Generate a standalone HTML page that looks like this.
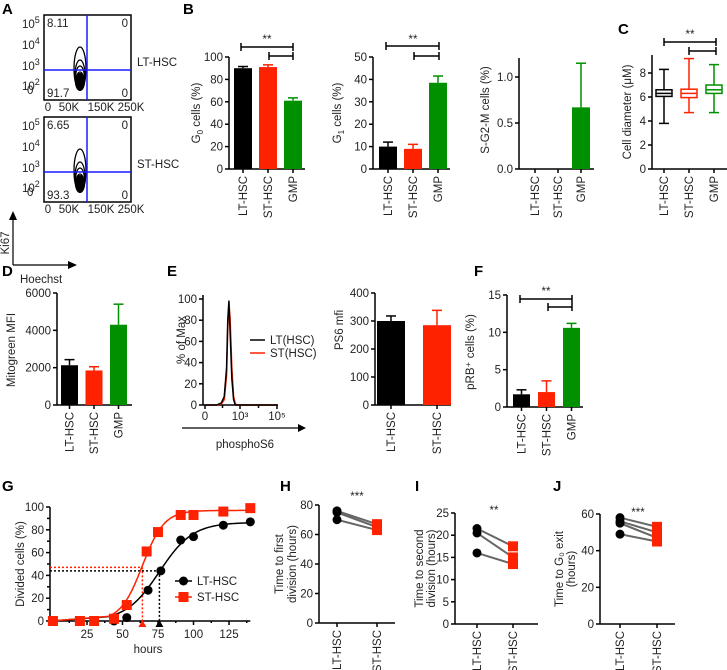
<!DOCTYPE html>
<html><head><meta charset="utf-8">
<style>
html,body{margin:0;padding:0;background:#fff;}
svg{display:block;font-family:"Liberation Sans",sans-serif;}
text{font-size:11.5px;fill:#222;}
.pl{font-size:15px;font-weight:bold;fill:#000;}
</style></head>
<body>
<svg id="fig" width="727" height="670" viewBox="0 0 727 670" xmlns="http://www.w3.org/2000/svg"></svg>
<script>
// ---------- data ----------
const catsB = ['LT-HSC','ST-HSC','GMP'];
const g0Vals = [90, 91, 61];
const g0Errs = [1.5, 2, 2.5];
const g1Vals = [10, 9, 38.5];
const g1Errs = [2, 2, 3];
const sg2mVals = [0, 0, 0.67];
const sg2mErrs = [0, 0, 0.48];
const diamMin = [3.8, 4.7, 4.7];
const diamQ1 = [6.05, 5.95, 6.3];
const diamMed = [6.3, 6.3, 6.6];
const diamQ3 = [6.6, 6.65, 7.0];
const diamMax = [8.3, 9.2, 8.7];
const mitoVals = [2130, 1850, 4300];
const mitoErrs = [300, 200, 1100];
const catsPS6 = ['LT-HSC','ST-HSC'];
const ps6Vals = [300, 285];
const ps6Errs = [18, 53];
const prbVals = [1.7, 2.0, 10.6];
const prbErrs = [0.6, 1.5, 0.6];
const histBins = [0, 1.0, 1.4, 1.65, 1.85, 1.95, 2.05, 2.15, 2.3, 2.45, 2.6, 2.8, 5];
const histLT = [0, 0, 2, 8, 35, 80, 98, 70, 25, 5, 0, 0, 0];
const histST = [0, 0, 1, 5, 28, 72, 96, 82, 35, 8, 1, 0, 0];
const hoursLT = [1, 44, 53, 68, 77, 91, 100, 121, 140];
const divLT = [0, 0, 3, 27, 44, 71, 74, 84, 87];
const hoursST = [1, 20, 30, 44, 53, 67, 75, 91, 100, 121, 140];
const divST = [0, 0, 0, 2, 14, 61, 78, 93, 93, 96, 99];
const fitLT = {top: 86.5, ec50: 76, slope: 0.085};
const fitST = {top: 97, ec50: 64, slope: 0.13};
const t50 = [76, 64];
const firstLT = [76, 75, 70];
const firstST = [67, 65, 63];
const secondLT = [21.5, 20.5, 16];
const secondST = [17.5, 15, 13.5];
const exitLT = [58, 56, 55, 49];
const exitST = [53, 50, 47, 45];

// ---------- helpers ----------
const NS = 'http://www.w3.org/2000/svg';
const svg = document.getElementById('fig');
function el(tag, attrs, name, parent) {
  const e = document.createElementNS(NS, tag);
  for (const k in attrs) e.setAttribute(k, attrs[k]);
  
  
  (parent || svg).appendChild(e);
  return e;
}
function txt(x, y, s, name, extra) {
  const t = el('text', Object.assign({x: x, y: y}, extra || {}), name);
  t.textContent = s;
  return t;
}
function line(x1, y1, x2, y2, name, extra) {
  return el('line', Object.assign({x1: x1, y1: y1, x2: x2, y2: y2, stroke: '#000', 'stroke-width': 1.5}, extra || {}), name);
}
function rotLabel(x, y, s, name, anchor) {
  return txt(x, y, s, name, {transform: 'rotate(-90 ' + x + ' ' + y + ')', 'text-anchor': anchor || 'middle'});
}
function makeY(v0px, vTopPx, vTop) { return v => v0px - (v0px - vTopPx) * v / vTop; }
function yAxis(ax, y, ticks, fmt, top, name) {
  line(ax, top, ax, y(0), name + '-y-axis');
  ticks.forEach(t => {
    line(ax - 4, y(t), ax, y(t), name + '-y-tick');
    txt(ax - 6, y(t) + 4, fmt(t), name + '-y-tick-label', {'text-anchor': 'end'});
  });
}
function xCats(cx, y0, cats, name) {
  cx.forEach((c, i) => {
    line(c, y0, c, y0 + 4, name + '-x-tick');
    rotLabel(c + 4, y0 + 7, cats[i], name + '-x-label', 'end');
  });
}
function bars(x0, w, step, y, vals, errs, colors, name) {
  const cx = [];
  vals.forEach((v, i) => {
    const x = x0 + i * step, c = x + w / 2;
    cx.push(c);
    if (v > 0) {
      el('rect', {x: x, y: y(v), width: w, height: y(0) - y(v), fill: colors[i]}, name + '-bar-' + i);
      line(c, y(v), c, y(v + errs[i]), name + '-error-bar', {stroke: colors[i]});
      line(c - 5, y(v + errs[i]), c + 5, y(v + errs[i]), name + '-error-cap', {stroke: colors[i]});
    }
  });
  return cx;
}
function bracket(x1, x2, yy, name) {
  line(x1, yy, x2, yy, name);
  line(x1, yy - 4, x1, yy + 4, name + '-end');
  line(x2, yy - 4, x2, yy + 4, name + '-end');
}
function stars(x, y, s, name) { txt(x, y, s, name, {'text-anchor': 'middle', 'font-size': 14}); }
const C3 = ['#000', '#ff2200', '#009000'];

// ---------- panel letters ----------
[['A',2,14],['B',183,14],['C',618,34],['D',2,276],['E',167,276],['F',474,276],['G',2,491],['H',280,491],['I',415,491],['J',553,491]]
  .forEach(p => txt(p[1], p[2], p[0], 'panel-label-' + p[0], {class: 'pl'}));

// ---------- A: flow plots ----------
function flow(top, q, name, lab) {
  const L = 44, R = 131, B = top + 85;
  el('rect', {x: L, y: top, width: R - L, height: 85, fill: 'none', stroke: '#000', 'stroke-width': 1.5}, name + '-box');
  const cx = 80, by = B - 10;
  [[6, 43], [5, 30], [4.5, 24], [4, 18], [3.5, 13]].forEach(e => {
    el('ellipse', {cx: cx, cy: by - e[1] / 2, rx: e[0], ry: e[1] / 2, fill: 'none', stroke: '#000', 'stroke-width': 1.3}, name + '-contour');
  });
  el('ellipse', {cx: cx, cy: by - 8, rx: 5, ry: 9, fill: '#000'}, name + '-contour-core');
  line(87, top, 87, B, name + '-vertical-gate', {stroke: '#1a1aff', 'stroke-width': 1.5});
  line(L, top + 55, R, top + 55, name + '-horizontal-gate', {stroke: '#1a1aff', 'stroke-width': 1.5});
  txt(L + 3, top + 12, q[0], name + '-q-ul', {fill: '#1a1aff', 'font-size': 12});
  txt(R - 3, top + 12, '0', name + '-q-ur', {fill: '#1a1aff', 'font-size': 12, 'text-anchor': 'end'});
  txt(L + 3, B - 3, q[1], name + '-q-ll', {fill: '#1a1aff', 'font-size': 12});
  txt(R - 3, B - 3, '0', name + '-q-lr', {fill: '#1a1aff', 'font-size': 12, 'text-anchor': 'end'});
  txt(137, top + 51, lab, name + '-population-label', {'font-size': 11.5});
  [['5', 6], ['4', 27], ['3', 48], ['2', 68]].forEach(t => {
    const tt = txt(22, top + t[1] + 7, '10', name + '-y-tick-label', {'font-size': 11});
    const s = document.createElementNS(NS, 'tspan');
    s.setAttribute('dy', -5); s.setAttribute('font-size', 9); s.textContent = t[0];
    tt.appendChild(s);
  });
  txt(27, top + 79, '0', name + '-y-tick-label');
  [['0', 48], ['50K', 69], ['150K', 101], ['250K', 131]].forEach(t =>
    txt(t[1], B + 11, t[0], name + '-x-tick-label', {'text-anchor': 'middle'}));
}
flow(15, ['8.11', '91.7'], 'lt-hsc-flow', 'LT-HSC');
flow(117, ['6.65', '93.3'], 'st-hsc-flow', 'ST-HSC');
line(13, 265, 13, 218, 'ki67-arrow', {'stroke-width': 1.2});
el('polygon', {points: '9,220 17,220 13,211', fill: '#000'}, 'ki67-arrowhead');
rotLabel(9, 243, 'Ki67', 'ki67-label');
line(13, 265, 70, 265, 'hoechst-arrow', {'stroke-width': 1.2});
el('polygon', {points: '68,261 68,269 77,265', fill: '#000'}, 'hoechst-arrowhead');
txt(20, 283, 'Hoechst', 'hoechst-label');

// ---------- B: G0 ----------
(function () {
  const y = makeY(169, 57, 100);
  yAxis(229, y, [0, 20, 40, 60, 80, 100], t => t, 57, 'g0');
  line(229, 169, 305, 169, 'g0-x-axis');
  const cx = bars(234, 18, 25, y, g0Vals, g0Errs, C3, 'g0');
  xCats(cx, 169, catsB, 'g0');
  bracket(241, 293, 47, 'g0-sig-bracket'); bracket(269, 293, 56, 'g0-sig-bracket-2');
  stars(267, 43, '**', 'g0-significance');
  const t = rotLabel(200, 113, 'G', 'g0-y-title');
  const s = document.createElementNS(NS, 'tspan'); s.setAttribute('font-size', 8); s.setAttribute('dy', 3); s.textContent = '0'; t.appendChild(s);
  const s2 = document.createElementNS(NS, 'tspan'); s2.setAttribute('dy', -3); s2.textContent = ' cells (%)'; t.appendChild(s2);
})();
// ---------- B: G1 ----------
(function () {
  const y = makeY(169, 57, 50);
  yAxis(373, y, [0, 10, 20, 30, 40, 50], t => t, 57, 'g1');
  line(373, 169, 450, 169, 'g1-x-axis');
  const cx = bars(379, 18, 25, y, g1Vals, g1Errs, C3, 'g1');
  xCats(cx, 169, catsB, 'g1');
  bracket(386, 439, 46, 'g1-sig-bracket'); bracket(414, 439, 56, 'g1-sig-bracket-2');
  stars(413, 43, '**', 'g1-significance');
  const t = rotLabel(341, 113, 'G', 'g1-y-title');
  const s = document.createElementNS(NS, 'tspan'); s.setAttribute('font-size', 8); s.setAttribute('dy', 3); s.textContent = '1'; t.appendChild(s);
  const s2 = document.createElementNS(NS, 'tspan'); s2.setAttribute('dy', -3); s2.textContent = ' cells (%)'; t.appendChild(s2);
})();
// ---------- B: S-G2-M ----------
(function () {
  const y = makeY(169, 123, 0.5);
  yAxis(519, y, [0, 0.5, 1.0], t => t.toFixed(1), 58, 'sg2m');
  line(519, 169, 594, 169, 'sg2m-x-axis');
  const cx = bars(526, 18, 23, y, sg2mVals, sg2mErrs, C3, 'sg2m');
  xCats(cx, 169, catsB, 'sg2m');
  rotLabel(489, 110, 'S-G2-M cells (%)', 'sg2m-y-title');
})();
// ---------- C: box plots ----------
(function () {
  const y = makeY(169, 73, 8);
  yAxis(652, y, [0, 2, 4, 6, 8], t => t, 55, 'diameter');
  line(652, 169, 727, 169, 'diameter-x-axis');
  const cx = [];
  diamMed.forEach((m, i) => {
    const x = 656 + i * 25, c = x + 8; cx.push(c);
    const col = C3[i];
    line(c, y(diamMax[i]), c, y(diamQ3[i]), 'diameter-whisker-top', {stroke: col});
    line(c, y(diamQ1[i]), c, y(diamMin[i]), 'diameter-whisker-bottom', {stroke: col});
    line(c - 5, y(diamMax[i]), c + 5, y(diamMax[i]), 'diameter-whisker-cap', {stroke: col});
    line(c - 5, y(diamMin[i]), c + 5, y(diamMin[i]), 'diameter-whisker-cap', {stroke: col});
    el('rect', {x: x, y: y(diamQ3[i]), width: 16, height: y(diamQ1[i]) - y(diamQ3[i]), fill: '#fff', stroke: col, 'stroke-width': 1.5}, 'diameter-box-' + i);
    line(x, y(m), x + 16, y(m), 'diameter-median', {stroke: col});
  });
  xCats(cx, 169, catsB, 'diameter');
  bracket(664, 716, 42, 'diameter-sig-bracket'); bracket(689, 716, 51, 'diameter-sig-bracket-2');
  stars(690, 38, '**', 'diameter-significance');
  rotLabel(631, 112, 'Cell diameter (μM)', 'diameter-y-title');
})();
// ---------- D: Mitogreen ----------
(function () {
  const y = makeY(405, 293, 6000);
  yAxis(57, y, [0, 2000, 4000, 6000], t => t, 293, 'mito');
  line(57, 405, 132, 405, 'mito-x-axis');
  const cx = bars(61, 17, 24.5, y, mitoVals, mitoErrs, C3, 'mito');
  xCats(cx, 405, catsB, 'mito');
  rotLabel(15, 350, 'Mitogreen MFI', 'mito-y-title');
})();
// ---------- E: histogram ----------
(function () {
  const y = makeY(405, 299, 100);
  const hx = b => b <= 3 ? 205 + b / 3 * 35 : 240 + (b - 3) / 2 * 37;
  yAxis(203, y, [0, 20, 40, 60, 80, 100], t => t, 295, 'hist');
  line(203, 405, 278, 405, 'hist-x-axis');
  [[0, '0'], [3, '10³'], [5, '10⁵']].forEach(t => {
    line(hx(t[0]), 405, hx(t[0]), 409, 'hist-x-tick');
    txt(hx(t[0]), 420, t[1], 'hist-x-tick-label', {'text-anchor': 'middle'});
  });
  [1.5, 4].forEach(b => line(hx(b), 405, hx(b), 408, 'hist-x-minor-tick'));
  const pts = (arr) => histBins.map((b, i) => hx(b) + ',' + y(arr[i])).join(' ');
  el('polyline', {points: pts(histST), fill: 'none', stroke: '#ff2200', 'stroke-width': 1.5, 'stroke-linejoin': 'round'}, 'hist-st-line');
  el('polyline', {points: pts(histLT), fill: 'none', stroke: '#000', 'stroke-width': 1.5, 'stroke-linejoin': 'round'}, 'hist-lt-line');
  line(250, 340, 265, 340, 'legend-lt-swatch');
  txt(270, 344, 'LT(HSC)', 'legend-lt-label');
  line(250, 353, 265, 353, 'legend-st-swatch', {stroke: '#ff2200'});
  txt(270, 357, 'ST(HSC)', 'legend-st-label');
  rotLabel(185, 340, '% of Max', 'hist-y-title');
  line(182, 428, 300, 428, 'phospho-arrow', {'stroke-width': 1.2});
  el('polygon', {points: '298,424 298,432 306,428', fill: '#000'}, 'phospho-arrowhead');
  txt(245, 448, 'phosphoS6', 'phospho-label', {'text-anchor': 'middle'});
})();
// ---------- E: PS6 mfi ----------
(function () {
  const y = makeY(405, 293, 400);
  yAxis(375, y, [0, 100, 200, 300, 400], t => t, 293, 'ps6');
  line(375, 405, 451, 405, 'ps6-x-axis');
  const cx = bars(377, 28, 46, y, ps6Vals, ps6Errs, ['#000', '#ff2200'], 'ps6');
  xCats(cx, 405, catsPS6, 'ps6');
  rotLabel(343, 330, 'PS6 mfi', 'ps6-y-title');
})();
// ---------- F: pRB ----------
(function () {
  const y = makeY(407, 295, 15);
  yAxis(507, y, [0, 5, 10, 15], t => t, 295, 'prb');
  line(507, 407, 583, 407, 'prb-x-axis');
  const cx = bars(513, 17, 25, y, prbVals, prbErrs, C3, 'prb');
  xCats(cx, 407, catsB, 'prb');
  bracket(520, 572, 299, 'prb-sig-bracket'); bracket(548, 572, 307, 'prb-sig-bracket-2');
  stars(546, 295, '**', 'prb-significance');
  rotLabel(474, 352, 'pRB⁺ cells (%)', 'prb-y-title');
})();
// ---------- G: division kinetics ----------
(function () {
  const y = makeY(621, 507, 100);
  const x = h => 51.5 + h * 1.42;
  yAxis(50, y, [0, 20, 40, 60, 80, 100], t => t, 507, 'div');
  [10, 30, 50, 70, 90].forEach(t => line(47, y(t), 50, y(t), 'div-y-minor-tick'));
  line(50, 621, x(140), 621, 'div-x-axis');
  [25, 50, 75, 100, 125].forEach(t => {
    line(x(t), 621, x(t), 625, 'div-x-tick');
    txt(x(t), 638, t, 'div-x-tick-label', {'text-anchor': 'middle'});
  });
  [12.5, 37.5, 62.5, 87.5, 112.5, 137.5].forEach(t => line(x(t), 621, x(t), 623, 'div-x-minor-tick'));
  txt(x(68), 653, 'hours', 'div-x-title', {'text-anchor': 'middle'});
  rotLabel(24, 564, 'Divided cells (%)', 'div-y-title');
  line(50, y(47), x(t50[1]), y(47), 'st-half-guide', {stroke: '#ff2200', 'stroke-dasharray': '2,2'});
  line(x(t50[1]), y(47), x(t50[1]), 621, 'st-half-guide-v', {stroke: '#ff2200', 'stroke-dasharray': '2,2'});
  line(50, y(44), x(t50[0]), y(44), 'lt-half-guide', {stroke: '#000', 'stroke-dasharray': '2,2'});
  line(x(t50[0]), y(44), x(t50[0]), 621, 'lt-half-guide-v', {stroke: '#000', 'stroke-dasharray': '2,2'});
  el('polygon', {points: (x(t50[1]) - 4) + ',627 ' + (x(t50[1]) + 4) + ',627 ' + x(t50[1]) + ',620', fill: '#ff2200'}, 'st-t50-marker');
  el('polygon', {points: (x(t50[0]) - 4) + ',627 ' + (x(t50[0]) + 4) + ',627 ' + x(t50[0]) + ',620', fill: '#000'}, 'lt-t50-marker');
  function curve(f, col, name) {
    const p = [];
    for (let h = 40; h <= 140; h += 1) p.push(x(h) + ',' + y(f.top / (1 + Math.exp(-f.slope * (h - f.ec50)))));
    p.unshift(x(0) + ',' + y(0));
    el('polyline', {points: p.join(' '), fill: 'none', stroke: col, 'stroke-width': 1.5}, name);
  }
  curve(fitLT, '#000', 'lt-fit-curve');
  curve(fitST, '#ff2200', 'st-fit-curve');
  hoursLT.forEach((h, i) => el('circle', {cx: x(h), cy: y(divLT[i]), r: 4.5, fill: '#000'}, 'lt-point'));
  hoursST.forEach((h, i) => el('rect', {x: x(h) - 5, y: y(divST[i]) - 5, width: 10, height: 10, fill: '#ff2200'}, 'st-point'));
  line(175, 581, 192, 581, 'legend-lt-line');
  el('circle', {cx: 183.5, cy: 581, r: 4.5, fill: '#000'}, 'legend-lt-marker');
  txt(197, 585, 'LT-HSC', 'legend-lt-text', {'font-size': 12});
  line(175, 597, 192, 597, 'legend-st-line', {stroke: '#ff2200'});
  el('rect', {x: 178.5, y: 592, width: 10, height: 10, fill: '#ff2200'}, 'legend-st-marker');
  txt(197, 601, 'ST-HSC', 'legend-st-text', {'font-size': 12});
})();
// ---------- H/I/J paired ----------
function paired(ax, xLT, xST, endX, y0, topPx, topV, ticks, lt, st, sig, sigX, sigY, titles, titleXs, name) {
  const y = makeY(y0, topPx, topV);
  yAxis(ax, y, ticks, t => t, topPx, name);
  line(ax, y0, endX, y0, name + '-x-axis');
  xCats([xLT, xST], y0, ['LT-HSC', 'ST-HSC'], name);
  lt.forEach((v, i) => line(xLT, y(v), xST, y(st[i]), name + '-pair-line', {stroke: '#666', 'stroke-width': 2}));
  lt.forEach(v => el('circle', {cx: xLT, cy: y(v), r: 4.5, fill: '#000'}, name + '-lt-point'));
  st.forEach(v => el('rect', {x: xST - 5, y: y(v) - 5, width: 10, height: 10, fill: '#ff2200'}, name + '-st-point'));
  stars(sigX, sigY, sig, name + '-significance');
  titles.forEach((t, i) => rotLabel(titleXs[i], y0 - (y0 - topPx) / 2, t, name + '-y-title'));
}
paired(319, 337, 377, 395, 623, 505, 80, [0, 20, 40, 60, 80], firstLT, firstST, '***', 357, 500, ['Time to first', 'division (hours)'], [283, 296], 'first-division');
paired(455, 477, 513, 538, 624, 513, 25, [0, 5, 10, 15, 20, 25], secondLT, secondST, '**', 494, 514, ['Time to second', 'division (hours)'], [423, 435], 'second-division');
paired(600, 620, 657, 675, 624, 514, 60, [0, 20, 40, 60], exitLT, exitST, '***', 638, 516, ['Time to G₀ exit', '(hours)'], [563, 575], 'g0-exit');
</script>
</body></html>
